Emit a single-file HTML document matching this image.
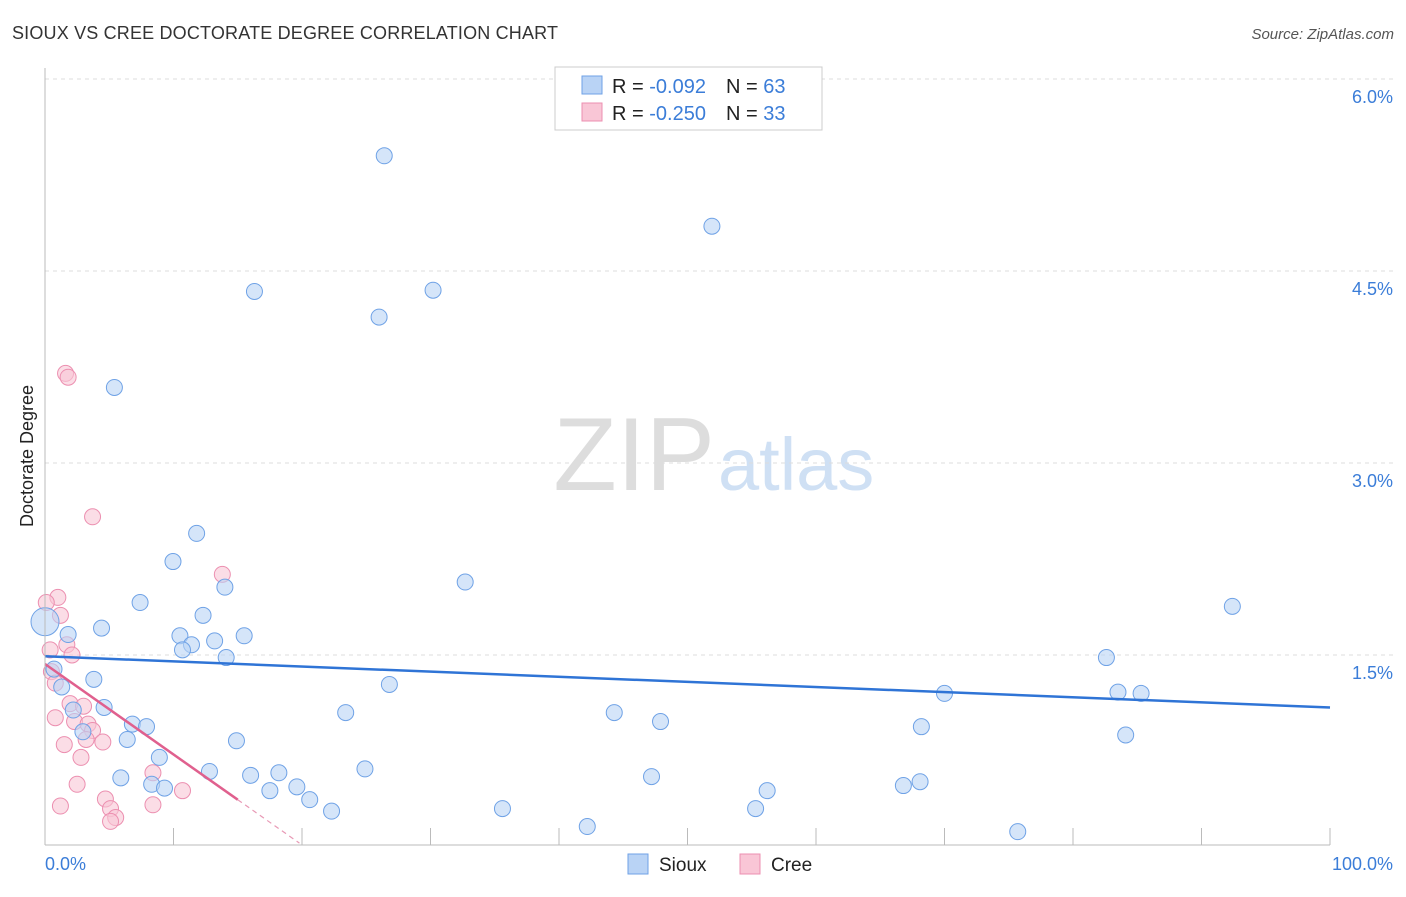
<!DOCTYPE html>
<html><head><meta charset="utf-8"><style>
body{margin:0;background:#fff;font-family:"Liberation Sans",sans-serif}
svg text{font-family:"Liberation Sans",sans-serif}
</style></head><body>
<svg id="c" width="1406" height="892" xmlns="http://www.w3.org/2000/svg">
<text x="12" y="39" font-size="18" fill="#333" textLength="546">SIOUX VS CREE DOCTORATE DEGREE CORRELATION CHART</text>
<text x="1394" y="39" font-size="15" fill="#555" text-anchor="end" font-style="italic">Source: ZipAtlas.com</text>
<text x="33" y="456" font-size="18" fill="#222" text-anchor="middle" transform="rotate(-90 33 456)">Doctorate Degree</text>
<text x="715" y="490" font-size="104" fill="#ddd" text-anchor="end" font-family="Liberation Serif">ZIP</text>
<text x="718" y="490" font-size="74" fill="#cfe0f4">atlas</text>
<g id="grid"></g><g id="pts"></g>
<line x1="45" y1="68" x2="45" y2="845" stroke="#bbb"/>
<line x1="45" y1="845" x2="1330" y2="845" stroke="#bbb"/>
<text x="45" y="870" font-size="18" fill="#3b7dd8">0.0%</text>
<text x="1393" y="870" font-size="18" fill="#3b7dd8" text-anchor="end">100.0%</text>
<g>
<rect x="555" y="67" width="267" height="63" fill="#fff" stroke="#ccc"/>
<rect x="582" y="76" width="20" height="18" fill="#b9d3f5" stroke="#6fa2e6"/>
<rect x="582" y="103" width="20" height="18" fill="#f9c6d6" stroke="#ec8fb0"/>
<text x="612" y="93" font-size="20" fill="#222">R = <tspan fill="#3b7dd8">-0.092</tspan><tspan dx="20">N = </tspan><tspan fill="#3b7dd8">63</tspan></text>
<text x="612" y="120" font-size="20" fill="#222">R = <tspan fill="#3b7dd8">-0.250</tspan><tspan dx="20">N = </tspan><tspan fill="#3b7dd8">33</tspan></text>
</g>
<g>
<rect x="628" y="854" width="20" height="20" fill="#b9d3f5" stroke="#6fa2e6"/>
<text x="659" y="871" font-size="19" fill="#222">Sioux</text>
<rect x="740" y="854" width="20" height="20" fill="#f9c6d6" stroke="#ec8fb0"/>
<text x="771" y="871" font-size="19" fill="#222">Cree</text>
</g>
</svg>
<script>
const yTicks=[1.5,3.0,4.5,6.0];
const xTicks=[0,10,20,30,40,50,60,70,80,90,100];
const siouxX=[26.4,51.9,16.3,30.2,26.0,5.4,11.8,9.96,32.7,14.0,7.4,92.4,12.3,0,4.4,1.8,10.5,15.5,13.2,11.4,10.7,14.1,82.6,0.7,3.8,1.3,26.8,70.0,83.5,85.3,4.6,2.2,23.4,44.3,47.9,6.8,7.9,68.2,2.95,84.1,6.4,14.9,8.9,12.8,16.0,18.2,24.9,47.2,5.9,8.3,9.3,19.6,17.5,56.2,66.8,68.1,20.6,22.3,35.6,55.3,42.2,75.7];
const siouxY=[5.40,4.85,4.34,4.35,4.14,3.59,2.45,2.23,2.07,2.03,1.91,1.88,1.81,1.76,1.71,1.66,1.65,1.65,1.61,1.58,1.54,1.48,1.48,1.39,1.31,1.25,1.27,1.20,1.21,1.20,1.09,1.07,1.05,1.05,0.98,0.96,0.94,0.94,0.90,0.875,0.84,0.83,0.70,0.59,0.56,0.58,0.61,0.55,0.54,0.49,0.46,0.47,0.44,0.44,0.48,0.51,0.37,0.28,0.30,0.30,0.16,0.12];
const creeX=[1.6,1.8,3.7,13.8,1.0,0.1,1.2,1.7,2.1,0.4,0.5,0.8,1.95,3.0,0.8,2.3,3.35,3.7,3.2,4.5,1.5,2.8,8.4,2.5,10.7,4.7,1.2,8.4,5.1,5.5,5.1];
const creeY=[3.70,3.67,2.58,2.13,1.95,1.91,1.81,1.58,1.50,1.54,1.37,1.28,1.12,1.10,1.01,0.98,0.96,0.91,0.84,0.82,0.80,0.70,0.58,0.49,0.44,0.375,0.32,0.33,0.30,0.23,0.20];
const siouxTrend=[1.49,1.09];
const creeTrend=[1.43,-0.0707];
const sx=v=>45+v*12.85, sy=v=>847-v*128;
const NS='http://www.w3.org/2000/svg';
function mk(t,a,p){const e=document.createElementNS(NS,t);for(const k in a)e.setAttribute(k,a[k]);p.appendChild(e);return e;}
const g=document.getElementById('grid'),P=document.getElementById('pts');
yTicks.forEach(v=>{const l=mk('line',{x1:45,x2:1393,y1:sy(v),y2:sy(v),stroke:'#ddd','stroke-dasharray':'4,4'},g);


const t=mk('text',{x:1393,y:sy(v)+24,'font-size':18,fill:'#3b7dd8','text-anchor':'end'},g);t.textContent=v.toFixed(1)+'%';

});
xTicks.forEach(v=>{const l=mk('line',{x1:sx(v),x2:sx(v),y1:828,y2:845,stroke:'#bbb'},g);

});
creeX.forEach((x,i)=>{const c=mk('circle',{cx:sx(x),cy:sy(creeY[i]),r:8,fill:'#f9c6d6','fill-opacity':0.6,stroke:'#ec8fb0','stroke-width':1},P);

});
siouxX.forEach((x,i)=>{const c=mk('circle',{cx:sx(x),cy:sy(siouxY[i]),r:i==13?14:8,fill:'#b9d3f5','fill-opacity':0.6,stroke:'#6fa2e6','stroke-width':1},P);

});
let l=mk('line',{x1:sx(0),y1:sy(siouxTrend[0]),x2:sx(100),y2:sy(siouxTrend[1]),stroke:'#2f74d6','stroke-width':2.5},P);


l=mk('line',{x1:sx(0),y1:sy(creeTrend[0]),x2:sx(15),y2:sy(creeTrend[0]+15*creeTrend[1]),stroke:'#e0608e','stroke-width':2.5},P);


l=mk('line',{x1:sx(15),y1:sy(creeTrend[0]+15*creeTrend[1]),x2:sx(19.8),y2:sy(creeTrend[0]+19.8*creeTrend[1]),stroke:'#e899b5','stroke-width':1.2,'stroke-dasharray':'5,4'},P);


</script>
</body></html>
